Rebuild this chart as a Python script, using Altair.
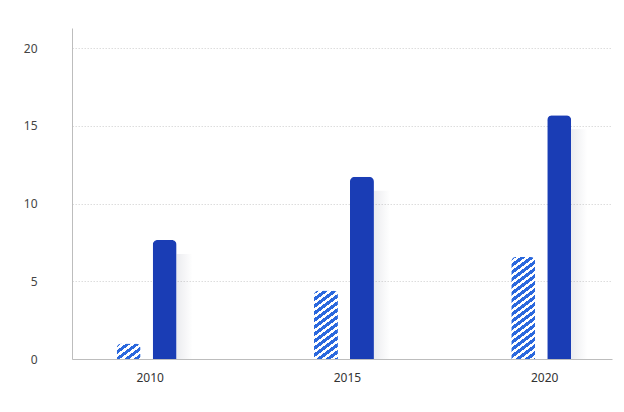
import altair as alt
import pandas as pd

years = [2010, 2015, 2020]
striped_values = [1.0, 4.4, 6.57]
solid_values = [7.65, 11.72, 15.69]
y_ticks = [0, 5, 10, 15, 20]
x_ticks = [2010, 2015, 2020]

Y_MAX = 21.3
PLOT_W = 540
PLOT_H = 331
BAR_W = 24
STRIPE_BLUE = "#2b68dd"
SOLID_BLUE = "#1a3db5"

df = pd.DataFrame(
    {
        "year": years * 2,
        "value": striped_values + solid_values,
        "series": ["striped"] * 3 + ["solid"] * 3,
    }
)


def stripe_gradient(value, period=7.0, blue_frac=0.55, slope=0.75):
    h = value / Y_MAX * PLOT_H
    w = BAR_W
    total = slope * w + h
    c = total / (slope * slope * w * w + h * h)
    stops = []
    s = 0.0
    while s < total:
        a = s / total
        b = min((s + period * blue_frac) / total, 1.0)
        e = min((s + period) / total, 1.0)
        stops += [
            {"offset": a, "color": STRIPE_BLUE},
            {"offset": b, "color": STRIPE_BLUE},
            {"offset": b, "color": "#ffffff"},
            {"offset": e, "color": "#ffffff"},
        ]
        s += period
    return {
        "gradient": "linear",
        "x1": 0,
        "y1": 0,
        "x2": c * slope * w,
        "y2": c * h,
        "stops": stops,
    }


shadow_grad = {
    "gradient": "linear",
    "x1": 0,
    "y1": 0,
    "x2": 1,
    "y2": 0,
    "stops": [
        {"offset": 0, "color": "rgba(40,45,80,0.09)"},
        {"offset": 1, "color": "rgba(40,45,80,0)"},
    ],
}

x_enc = alt.X(
    "year:Q",
    scale=alt.Scale(domain=[2008.234, 2021.667], nice=False, zero=False),
    axis=alt.Axis(
        values=x_ticks,
        format="d",
        title=None,
        grid=False,
        ticks=False,
        domainColor="#bdbdbd",
        labelPadding=13,
        labelOffset=3,
        labelColor="#333333",
        labelFontSize=12,
        labelFont="Noto Sans",
    ),
)
y_enc = alt.Y(
    "value:Q",
    scale=alt.Scale(domain=[0, Y_MAX], nice=False),
    axis=alt.Axis(
        values=y_ticks,
        title=None,
        ticks=False,
        grid=True,
        gridColor="#dddddd",
        gridDash=[1.5, 1.5],
        domainColor="#bdbdbd",
        labelPadding=35,
        labelColor="#444444",
        labelFontSize=12,
        labelFont="Noto Sans",
    ),
)

base = alt.Chart(df).encode(x=x_enc, y=y_enc)

shadow = base.transform_filter(alt.datum.series == "solid").mark_bar(
    xOffset=38, width=16, yOffset=14, clip=True, fill=shadow_grad
)
solid = base.transform_filter(alt.datum.series == "solid").mark_bar(
    xOffset=18, width=BAR_W, color=SOLID_BLUE, cornerRadiusEnd=5
)

layers = [shadow, solid]
for yr, v in zip(years, striped_values):
    layers.append(
        base.transform_filter(
            (alt.datum.series == "striped") & (alt.datum.year == yr)
        ).mark_bar(
            xOffset=-18, width=BAR_W, fill=stripe_gradient(v), cornerRadiusEnd=5
        )
    )

chart = (
    alt.layer(*layers)
    .properties(
        width=PLOT_W,
        height=PLOT_H,
        autosize=alt.AutoSizeParams(type="none"),
        padding={"left": 64, "top": 20, "right": 2, "bottom": 30},
        background="#ffffff",
    )
    .configure_view(stroke=None)
)

chart.save("out.html", embed_options={"renderer": "svg", "actions": False})
